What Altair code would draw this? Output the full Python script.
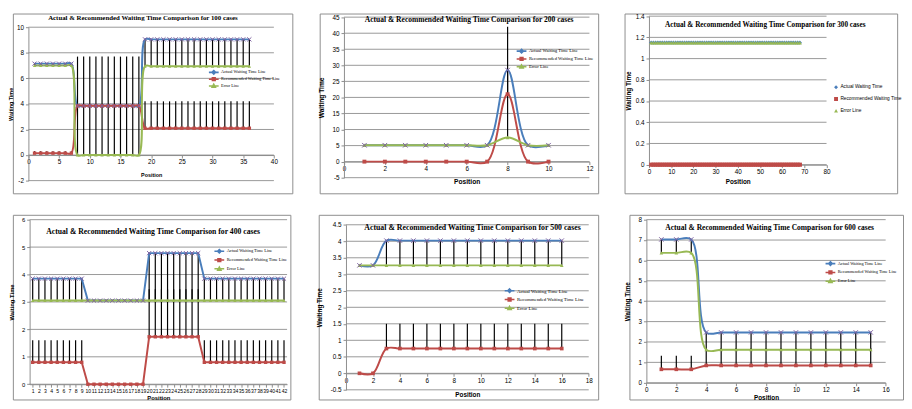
import altair as alt
import pandas as pd

# ---------------- data ----------------
SERIES = ["Actual Waiting Time Line", "Recommended Waiting Time Line", "Error Line"]
SERIES_300 = ["Actual Waiting Time", "Recommended Waiting Time", "Error Line"]

pos_100 = list(range(1, 37))
act_100 = [7.15, 7.15, 7.15, 7.15, 7.15, 7.15, 7.15,
           3.85, 3.85, 3.85, 3.85, 3.85, 3.85, 3.85, 3.85, 3.85, 3.85, 3.85,
           9.05, 9.05, 9.05, 9.05, 9.05, 9.05, 9.05, 9.05, 9.05, 9.05, 9.05, 9.05, 9.05, 9.05, 9.05, 9.05, 9.05, 9.05]
rec_100 = [0.15, 0.15, 0.15, 0.15, 0.15, 0.15, 0.15,
           3.85, 3.85, 3.85, 3.85, 3.85, 3.85, 3.85, 3.85, 3.85, 3.85, 3.85,
           2.1, 2.1, 2.1, 2.1, 2.1, 2.1, 2.1, 2.1, 2.1, 2.1, 2.1, 2.1, 2.1, 2.1, 2.1, 2.1, 2.1, 2.1]
err_100 = [7.0, 7.0, 7.0, 7.0, 7.0, 7.0, 7.0,
           0.0, 0.0, 0.0, 0.0, 0.0, 0.0, 0.0, 0.0, 0.0, 0.0, 0.0,
           6.95, 6.95, 6.95, 6.95, 6.95, 6.95, 6.95, 6.95, 6.95, 6.95, 6.95, 6.95, 6.95, 6.95, 6.95, 6.95, 6.95, 6.95]

pos_200 = list(range(1, 11))
act_200 = [5.1, 5.1, 5.1, 5.1, 5.1, 5.1, 5.1, 28.5, 5.1, 5.1]
rec_200 = [0.0, 0.0, 0.0, 0.0, 0.0, 0.0, 0.0, 21.0, 0.0, 0.0]
err_200 = [5.1, 5.1, 5.1, 5.1, 5.1, 5.1, 5.1, 7.5, 5.1, 5.1]

pos_300 = list(range(1, 69))
act_300 = [1.15, 1.15, 1.15, 1.15, 1.15, 1.15, 1.15, 1.15, 1.15, 1.15, 1.15, 1.15, 1.15, 1.15, 1.15, 1.15, 1.15,
           1.15, 1.15, 1.15, 1.15, 1.15, 1.15, 1.15, 1.15, 1.15, 1.15, 1.15, 1.15, 1.15, 1.15, 1.15, 1.15, 1.15,
           1.15, 1.15, 1.15, 1.15, 1.15, 1.15, 1.15, 1.15, 1.15, 1.15, 1.15, 1.15, 1.15, 1.15, 1.15, 1.15, 1.15,
           1.15, 1.15, 1.15, 1.15, 1.15, 1.15, 1.15, 1.15, 1.15, 1.15, 1.15, 1.15, 1.15, 1.15, 1.15, 1.15, 1.15]
rec_300 = [0.0, 0.0, 0.0, 0.0, 0.0, 0.0, 0.0, 0.0, 0.0, 0.0, 0.0, 0.0, 0.0, 0.0, 0.0, 0.0, 0.0,
           0.0, 0.0, 0.0, 0.0, 0.0, 0.0, 0.0, 0.0, 0.0, 0.0, 0.0, 0.0, 0.0, 0.0, 0.0, 0.0, 0.0,
           0.0, 0.0, 0.0, 0.0, 0.0, 0.0, 0.0, 0.0, 0.0, 0.0, 0.0, 0.0, 0.0, 0.0, 0.0, 0.0, 0.0,
           0.0, 0.0, 0.0, 0.0, 0.0, 0.0, 0.0, 0.0, 0.0, 0.0, 0.0, 0.0, 0.0, 0.0, 0.0, 0.0, 0.0]
err_300 = [1.15, 1.15, 1.15, 1.15, 1.15, 1.15, 1.15, 1.15, 1.15, 1.15, 1.15, 1.15, 1.15, 1.15, 1.15, 1.15, 1.15,
           1.15, 1.15, 1.15, 1.15, 1.15, 1.15, 1.15, 1.15, 1.15, 1.15, 1.15, 1.15, 1.15, 1.15, 1.15, 1.15, 1.15,
           1.15, 1.15, 1.15, 1.15, 1.15, 1.15, 1.15, 1.15, 1.15, 1.15, 1.15, 1.15, 1.15, 1.15, 1.15, 1.15, 1.15,
           1.15, 1.15, 1.15, 1.15, 1.15, 1.15, 1.15, 1.15, 1.15, 1.15, 1.15, 1.15, 1.15, 1.15, 1.15, 1.15, 1.15]

pos_400 = list(range(1, 43))
act_400 = [3.85, 3.85, 3.85, 3.85, 3.85, 3.85, 3.85, 3.85, 3.85,
           3.05, 3.05, 3.05, 3.05, 3.05, 3.05, 3.05, 3.05, 3.05, 3.05,
           4.78, 4.78, 4.78, 4.78, 4.78, 4.78, 4.78, 4.78, 4.78,
           3.85, 3.85, 3.85, 3.85, 3.85, 3.85, 3.85, 3.85, 3.85, 3.85, 3.85, 3.85, 3.85, 3.85]
rec_400 = [0.8, 0.8, 0.8, 0.8, 0.8, 0.8, 0.8, 0.8, 0.8,
           0.0, 0.0, 0.0, 0.0, 0.0, 0.0, 0.0, 0.0, 0.0, 0.0,
           1.73, 1.73, 1.73, 1.73, 1.73, 1.73, 1.73, 1.73, 1.73,
           0.8, 0.8, 0.8, 0.8, 0.8, 0.8, 0.8, 0.8, 0.8, 0.8, 0.8, 0.8, 0.8, 0.8]
err_400 = [3.05, 3.05, 3.05, 3.05, 3.05, 3.05, 3.05, 3.05, 3.05,
           3.05, 3.05, 3.05, 3.05, 3.05, 3.05, 3.05, 3.05, 3.05, 3.05,
           3.05, 3.05, 3.05, 3.05, 3.05, 3.05, 3.05, 3.05, 3.05,
           3.05, 3.05, 3.05, 3.05, 3.05, 3.05, 3.05, 3.05, 3.05, 3.05, 3.05, 3.05, 3.05, 3.05]

pos_500 = list(range(1, 17))
act_500 = [3.27, 3.27, 4.02, 4.02, 4.02, 4.02, 4.02, 4.02, 4.02, 4.02, 4.02, 4.02, 4.02, 4.02, 4.02, 4.02]
rec_500 = [0.0, 0.0, 0.75, 0.75, 0.75, 0.75, 0.75, 0.75, 0.75, 0.75, 0.75, 0.75, 0.75, 0.75, 0.75, 0.75]
err_500 = [3.27, 3.27, 3.27, 3.27, 3.27, 3.27, 3.27, 3.27, 3.27, 3.27, 3.27, 3.27, 3.27, 3.27, 3.27, 3.27]

pos_600 = list(range(1, 16))
act_600 = [7.03, 7.03, 7.03, 2.47, 2.47, 2.47, 2.47, 2.47, 2.47, 2.47, 2.47, 2.47, 2.47, 2.47, 2.47]
rec_600 = [0.66, 0.66, 0.66, 0.85, 0.85, 0.85, 0.85, 0.85, 0.85, 0.85, 0.85, 0.85, 0.85, 0.85, 0.85]
err_600 = [6.37, 6.37, 6.37, 1.62, 1.62, 1.62, 1.62, 1.62, 1.62, 1.62, 1.62, 1.62, 1.62, 1.62, 1.62]

# axis tick labels
xt_100 = [0, 5, 10, 15, 20, 25, 30, 35, 40]
yt_100 = [-2, 0, 2, 4, 6, 8, 10]
xt_200 = [0, 2, 4, 6, 8, 10, 12]
yt_200 = [-5, 0, 5, 10, 15, 20, 25, 30, 35, 40, 45]
xt_300 = [0, 10, 20, 30, 40, 50, 60, 70, 80]
yt_300 = [0, 0.2, 0.4, 0.6, 0.8, 1, 1.2, 1.4]
xt_400 = list(range(1, 43))
yt_400 = [0, 1, 2, 3, 4, 5, 6]
xt_500 = [0, 2, 4, 6, 8, 10, 12, 14, 16, 18]
yt_500 = [-0.5, 0, 0.5, 1, 1.5, 2, 2.5, 3, 3.5, 4, 4.5]
xt_600 = [0, 2, 4, 6, 8, 10, 12, 14, 16]
yt_600 = [0, 1, 2, 3, 4, 5, 6, 7, 8]

TITLE = "Actual & Recommended Waiting Time Comparison for {} cases"

# ---------------- styling ----------------
SANS = "Liberation Sans Narrow, Liberation Sans, Arial, sans-serif"
SERIF = "Liberation Serif, Times New Roman, serif"
BLUE, RED, GREEN, PURPLE = "#4A7EBB", "#BE4B48", "#98B954", "#7D60A0"
COLORS = [BLUE, RED, GREEN]
GRID = "#8C8C8C"
FRAME = "#8C8C8C"
# legend symbols: a short line with the series marker on it (path units = 5 px)
LEG_PATHS = [
    "M-1,0L1,0M0,-0.36L0.36,0L0,0.36L-0.36,0Z",
    "M-1,0L1,0M-0.28,-0.28L0.28,-0.28L0.28,0.28L-0.28,0.28Z",
    "M-1,0L1,0M0,-0.36L0.33,0.26L-0.33,0.26Z",
]
XMARK = "M-1,-1L1,1M-1,1L1,-1"
LABEXPR = "'' + datum.value"


def long_df(pos, a, r, e):
    rows = []
    for k, vals in enumerate([a, r, e]):
        for p, v, rv in zip(pos, vals, r):
            rows.append({"pos": p, "value": v, "k": k, "rec": rv})
    return pd.DataFrame(rows)


def panel(c):
    W, H = c["size"]
    fx0, fy0, fx1, fy1 = c["frame"]
    sx = W / (fx1 - fx0)
    sy = H / (fy1 - fy0)
    X = lambda v: (v - fx0) * sx
    Y = lambda v: (v - fy0) * sy
    xr = [X(c["xpx"][0]), X(c["xpx"][1])]
    yr = [Y(c["ypx"][0]), Y(c["ypx"][1])]
    xdom, ydom = c["xdom"], c["ydom"]
    base_v = max(ydom[0], 0)
    y_ax = yr[0] + (base_v - ydom[0]) / (ydom[1] - ydom[0]) * (yr[1] - yr[0])
    xs = alt.Scale(domain=xdom, range=xr, nice=False, zero=False)
    ys = alt.Scale(domain=ydom, range=yr, nice=False, zero=False)
    common = dict(grid=False, labelFont=SANS, labelColor="black",
                  labelOverlap=False, labelFlush=False, labelBound=False,
                  domainColor=GRID, tickColor=GRID,
                  tickSize=3, titleFont=SANS, titleFontWeight="bold", titleFontSize=c["atit"],
                  titleColor="black", labelExpr=LABEXPR, titleAlign="center",
                  titleBaseline="middle")
    x_axis = alt.Axis(title="Position", values=c["xt"], orient="bottom", offset=y_ax - H,
                      labelPadding=1, labelFontSize=c["xlab"], titleX=(xr[0] + xr[1]) / 2,
                      titleY=Y(c["xtitle_y"]) - y_ax + c["xtdy"], **common)
    y_axis = alt.Axis(title="Waiting Time", values=c["yt"], orient="left", offset=-xr[0],
                      labelPadding=2, labelFontSize=c["lab"], titleX=X(c["ytitle_x"]) - xr[0] - 6,
                      titleY=(yr[0] + yr[1]) / 2, titleAngle=-90, **common)
    ex = lambda f: alt.X(f, type="quantitative", scale=xs, axis=x_axis)
    ey = lambda f: alt.Y(f, type="quantitative", scale=ys, axis=y_axis)

    gdf = pd.DataFrame({"g": c["yt"], "x0": xdom[0], "x1": xdom[1]})
    layers = [alt.Chart(gdf).mark_rule(color=GRID, strokeWidth=0.9).encode(
        x=ex("x0"), x2="x1:Q", y=ey("g"))]

    df = long_df(*c["data"])
    base = alt.Chart(df)
    layers.append(base.transform_filter("datum.k > 0 && datum.rec > 0")
                  .transform_calculate(hi="datum.value + datum.rec")
                  .mark_rule(color="black", strokeWidth=1.2)
                  .encode(x=ex("pos"), y=ey("value"), y2="hi:Q"))
    shapes = ["diamond", "square", "triangle-up"]
    ms = c["msize"]
    for k in range(3):
        sub = base.transform_filter(f"datum.k == {k}")
        if c["lines"]:
            layers.append(sub.mark_line(color=COLORS[k], strokeWidth=2, interpolate=c["interp"])
                          .encode(x=ex("pos"), y=ey("value")))
            if k > 0:
                layers.append(sub.mark_point(shape=shapes[k], filled=True, color=COLORS[k],
                                             size=ms, opacity=1)
                              .encode(x=ex("pos"), y=ey("value")))
        else:
            layers.append(sub.mark_point(shape=shapes[k], filled=True, color=COLORS[k],
                                         size=ms, opacity=1)
                          .encode(x=ex("pos"), y=ey("value")))
    if c["lines"]:
        layers.append(base.transform_filter("datum.k == 0")
                      .mark_point(shape=XMARK, filled=False, color=PURPLE, size=ms + 6,
                                  strokeWidth=1, opacity=1)
                      .encode(x=ex("pos"), y=ey("value")))

    # legend
    names = c["names"]
    rowh = c["rowh"]
    if c["lines"]:
        lsize = 100
        leg = alt.Legend(orient="none", legendX=X(c["leg"][0]),
                         legendY=Y(c["leg"][1]) - rowh / 2 - 2.5, title=None,
                         labelFont=SERIF, labelFontSize=c["legfs"], symbolSize=lsize,
                         symbolStrokeWidth=1.6, symbolOpacity=1, labelOffset=1.5,
                         clipHeight=rowh, rowPadding=0, padding=0, labelLimit=200)
        srange = LEG_PATHS
    else:
        lsize = 16
        leg = alt.Legend(orient="none", legendX=X(c["leg"][0]) - 4,
                         legendY=Y(c["leg"][1]) - rowh / 2 - 2.5, title=None,
                         labelFont=SANS, labelFontSize=c["legfs"], symbolSize=lsize,
                         symbolStrokeWidth=0, symbolOpacity=1, labelOffset=2,
                         clipHeight=rowh, rowPadding=0, padding=0, labelLimit=70)
        srange = ["diamond", "square", "triangle-up"]
    cs = alt.Scale(domain=names, range=COLORS)
    layers.append(alt.Chart(pd.DataFrame({"series": names})).transform_filter("false")
                  .mark_point(filled=True, opacity=1, size=lsize)
                  .encode(color=alt.Color("series:N", scale=cs, legend=leg, sort=names),
                          stroke=alt.Stroke("series:N", scale=cs, legend=leg, sort=names),
                          shape=alt.Shape("series:N", scale=alt.Scale(domain=names, range=srange),
                                          legend=leg, sort=names)))

    tx, ty = c["tpos"]
    return alt.layer(*layers).properties(
        width=W, height=H,
        title=alt.TitleParams(TITLE.format(c["n"]), font=SERIF, fontWeight="bold",
                              fontSize=c["tsize"], color="black", anchor="middle",
                              dx=X(tx) - W / 2, offset=-Y(ty) - c["tsize"] / 2 - c["tdy"],
                              baseline="middle"),
    )


cfgs = [
    dict(n=100, frame=(6, 8, 294, 192), size=(286, 184), xpx=(22, 275), xdom=(0, 40), xt=xt_100,
         ypx=(179, 22), ydom=(-2, 10), yt=yt_100, data=(pos_100, act_100, rec_100, err_100),
         tsize=7.0, tpos=(140, 16), tdy=0, leg=(207, 70.7), legfs=4.4, rowh=7,
         ytitle_x=10, xtitle_y=174, xtdy=-1.5, atit=5.5, lab=6.5, xlab=6.5, lines=True,
         interp="catmull-rom", msize=12, names=SERIES),
    dict(n=200, frame=(317, 8, 604, 192), size=(285, 184), xpx=(342, 595), xdom=(0, 12), xt=xt_200,
         ypx=(176, 11.7), ydom=(-5, 45), yt=yt_200, data=(pos_200, act_200, rec_200, err_200),
         tsize=7.7, tpos=(471, 19), tdy=0, leg=(519, 49), legfs=4.8, rowh=7.4,
         ytitle_x=325, xtitle_y=181.7, xtdy=-1.5, atit=6.8, lab=6.5, xlab=6.5, lines=True,
         interp="catmull-rom", msize=16, names=SERIES),
    dict(n=300, frame=(631, 8, 910, 192), size=(279, 184), xpx=(656, 837.7), xdom=(0, 80), xt=xt_300,
         ypx=(162.7, 10.7), ydom=(0, 1.4), yt=yt_300, data=(pos_300, act_300, rec_300, err_300),
         tsize=7.4, tpos=(775, 24), tdy=0, leg=(849, 86), legfs=4.9, rowh=11.6,
         ytitle_x=640.7, xtitle_y=181.7, xtdy=-1.5, atit=6.5, lab=6.5, xlab=6.5, lines=False,
         interp="linear", msize=18, names=SERIES_300),
    dict(n=400, frame=(7, 214, 292, 404), size=(284, 189), xpx=(24.2, 288.6), xdom=(0.5, 42.5), xt=xt_400,
         ypx=(388.3, 219), ydom=(0, 6), yt=yt_400, data=(pos_400, act_400, rec_400, err_400),
         tsize=7.9, tpos=(151, 233), tdy=3, leg=(213, 254), legfs=4.5, rowh=8.3,
         ytitle_x=11.7, xtitle_y=401, xtdy=1, atit=6, lab=6, xlab=5.2, lines=True,
         interp="linear", msize=12, names=SERIES),
    dict(n=500, frame=(316, 214, 603, 405), size=(286, 189), xpx=(344, 593.3), xdom=(0, 18), xt=xt_500,
         ypx=(395, 224.3), ydom=(-0.5, 4.5), yt=yt_500, data=(pos_500, act_500, rec_500, err_500),
         tsize=8.0, tpos=(474, 229), tdy=3, leg=(506, 295), legfs=5.0, rowh=8.6,
         ytitle_x=322.7, xtitle_y=399, xtdy=1, atit=6.5, lab=6.5, xlab=6.5, lines=True,
         interp="catmull-rom", msize=14, names=SERIES),
    dict(n=600, frame=(632, 214, 911, 405), size=(280, 189), xpx=(649.3, 893.3), xdom=(0, 16), xt=xt_600,
         ypx=(387.7, 219), ydom=(0, 8), yt=yt_600, data=(pos_600, act_600, rec_600, err_600),
         tsize=7.7, tpos=(775, 229), tdy=3, leg=(831, 267), legfs=4.4, rowh=9,
         ytitle_x=635.7, xtitle_y=401.7, xtdy=1, atit=6.5, lab=6.5, xlab=6.5, lines=True,
         interp="catmull-rom", msize=14, names=SERIES),
]

panels = [panel(c) for c in cfgs]

ind = dict(x="independent", y="independent", color="independent",
           stroke="independent", shape="independent")
indl = dict(color="independent", stroke="independent", shape="independent")
row1 = alt.hconcat(*panels[:3], spacing=25).resolve_scale(**ind).resolve_legend(**indl)
row2 = alt.hconcat(*panels[3:], spacing=25).resolve_scale(**ind).resolve_legend(**indl)
chart = (alt.vconcat(row1, row2, spacing=20)
         .resolve_scale(**ind).resolve_legend(**indl)
         .properties(padding=0, background="white")
         .configure_view(stroke=FRAME, strokeWidth=1))

chart.save("out.html", embed_options={"renderer": "svg", "actions": False})
